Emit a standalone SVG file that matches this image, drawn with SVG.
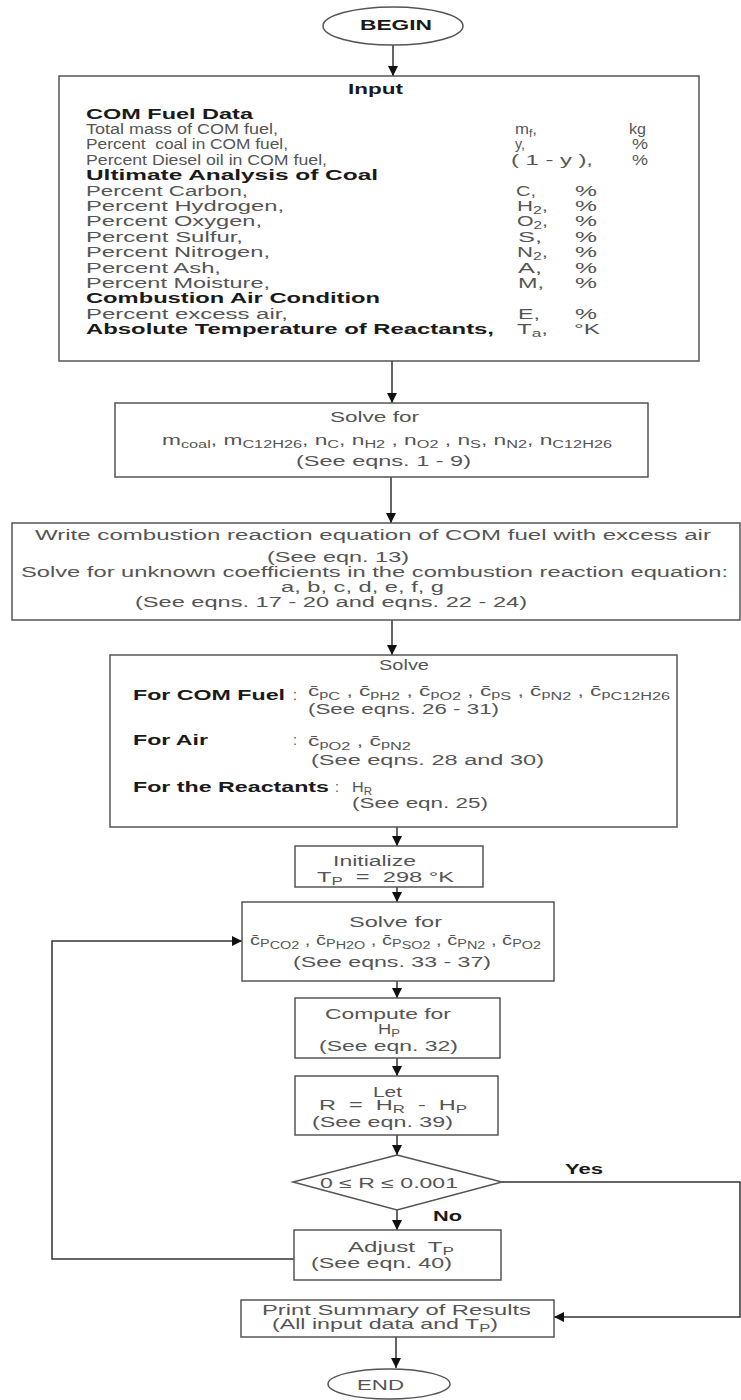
<svg xmlns="http://www.w3.org/2000/svg" width="741" height="1400" viewBox="0 0 741 1400">
<style>
.t{font-family:"Liberation Sans",Arial,sans-serif;font-size:14px;fill:#555}
.b{font-weight:bold;fill:#1a1a1a}
.s{font-size:10px}
.box{fill:#fff;stroke:#555;stroke-width:1.5}
.ln{fill:none;stroke:#333;stroke-width:1.5}
</style>
<defs>
<marker id="ah" markerUnits="userSpaceOnUse" markerWidth="12" markerHeight="12" refX="10" refY="5" orient="auto">
<path d="M0,0 L10,5 L0,10 Z" fill="#111"/>
</marker>
</defs>
<rect width="741" height="1400" fill="#fff"/>
<g id="connectors" class="ln">
<line x1="393" y1="45" x2="393" y2="76" marker-end="url(#ah)"/>
<line x1="392" y1="361" x2="392" y2="403" marker-end="url(#ah)"/>
<line x1="391" y1="477" x2="391" y2="523" marker-end="url(#ah)"/>
<line x1="392" y1="620" x2="392" y2="655" marker-end="url(#ah)"/>
<line x1="397" y1="827" x2="397" y2="846" marker-end="url(#ah)"/>
<line x1="397" y1="887" x2="397" y2="902" marker-end="url(#ah)"/>
<line x1="397" y1="981" x2="397" y2="998" marker-end="url(#ah)"/>
<line x1="397" y1="1058" x2="397" y2="1076" marker-end="url(#ah)"/>
<line x1="397" y1="1135" x2="397" y2="1155" marker-end="url(#ah)"/>
<line x1="397" y1="1210" x2="397" y2="1230" marker-end="url(#ah)"/>
<polyline points="294,1259 52,1259 52,941 242,941" marker-end="url(#ah)"/>
<polyline points="502,1182 740,1182 740,1317 554,1317" marker-end="url(#ah)"/>
<line x1="396" y1="1337" x2="396" y2="1368" marker-end="url(#ah)"/>
</g>
<g id="begin">
<ellipse class="box" cx="393" cy="26" rx="70" ry="19"/>
<text class="t b" x="360" y="30" textLength="72" lengthAdjust="spacingAndGlyphs">BEGIN</text>
</g>
<g id="input">
<rect class="box" x="59" y="76" width="640" height="285"/>
<text class="t b" x="348" y="93.5" textLength="55" lengthAdjust="spacingAndGlyphs">Input</text>
<text class="t b" x="86" y="118.5" textLength="167" lengthAdjust="spacingAndGlyphs">COM Fuel Data</text>
<text class="t" x="86" y="133.9" textLength="192" lengthAdjust="spacingAndGlyphs">Total mass of COM fuel,</text>
<text class="t" x="86" y="149.3" textLength="202" lengthAdjust="spacingAndGlyphs">Percent&#160; coal in COM fuel,</text>
<text class="t" x="86" y="164.7" textLength="241" lengthAdjust="spacingAndGlyphs">Percent Diesel oil in COM fuel,</text>
<text class="t b" x="86" y="180.1" textLength="292" lengthAdjust="spacingAndGlyphs">Ultimate Analysis of Coal</text>
<text class="t" x="86" y="195.5" textLength="162" lengthAdjust="spacingAndGlyphs">Percent Carbon,</text>
<text class="t" x="86" y="210.9" textLength="198" lengthAdjust="spacingAndGlyphs">Percent Hydrogen,</text>
<text class="t" x="86" y="226.3" textLength="176" lengthAdjust="spacingAndGlyphs">Percent Oxygen,</text>
<text class="t" x="86" y="241.7" textLength="157" lengthAdjust="spacingAndGlyphs">Percent Sulfur,</text>
<text class="t" x="86" y="257.1" textLength="184" lengthAdjust="spacingAndGlyphs">Percent Nitrogen,</text>
<text class="t" x="86" y="272.5" textLength="135" lengthAdjust="spacingAndGlyphs">Percent Ash,</text>
<text class="t" x="86" y="287.9" textLength="184" lengthAdjust="spacingAndGlyphs">Percent Moisture,</text>
<text class="t b" x="86" y="303.3" textLength="294" lengthAdjust="spacingAndGlyphs">Combustion Air Condition</text>
<text class="t" x="86" y="318.7" textLength="202" lengthAdjust="spacingAndGlyphs">Percent excess air,</text>
<text class="t b" x="86" y="334.1" textLength="408" lengthAdjust="spacingAndGlyphs">Absolute Temperature of Reactants,</text>
<text class="t" x="515" y="133.9" textLength="22" lengthAdjust="spacingAndGlyphs">m<tspan class="s" dy="3">f</tspan><tspan dy="-3">,</tspan></text>
<text class="t" x="629" y="133.9" textLength="17" lengthAdjust="spacingAndGlyphs">kg</text>
<text class="t" x="515" y="149.3" textLength="10" lengthAdjust="spacingAndGlyphs">y,</text>
<text class="t" x="632" y="149.3" textLength="16" lengthAdjust="spacingAndGlyphs">%</text>
<text class="t" x="511" y="164.7" textLength="82" lengthAdjust="spacingAndGlyphs">( 1 - y ),</text>
<text class="t" x="632" y="164.7" textLength="16" lengthAdjust="spacingAndGlyphs">%</text>
<text class="t" x="516" y="195.5" textLength="20" lengthAdjust="spacingAndGlyphs">C,</text>
<text class="t" x="575" y="195.5" textLength="22" lengthAdjust="spacingAndGlyphs">%</text>
<text class="t" x="517" y="210.9" textLength="31" lengthAdjust="spacingAndGlyphs">H<tspan class="s" dy="3">2</tspan><tspan dy="-3">,</tspan></text>
<text class="t" x="575" y="210.9" textLength="22" lengthAdjust="spacingAndGlyphs">%</text>
<text class="t" x="517" y="226.3" textLength="31" lengthAdjust="spacingAndGlyphs">O<tspan class="s" dy="3">2</tspan><tspan dy="-3">,</tspan></text>
<text class="t" x="575" y="226.3" textLength="22" lengthAdjust="spacingAndGlyphs">%</text>
<text class="t" x="518" y="241.7" textLength="24" lengthAdjust="spacingAndGlyphs">S,</text>
<text class="t" x="575" y="241.7" textLength="22" lengthAdjust="spacingAndGlyphs">%</text>
<text class="t" x="517" y="257.1" textLength="31" lengthAdjust="spacingAndGlyphs">N<tspan class="s" dy="3">2</tspan><tspan dy="-3">,</tspan></text>
<text class="t" x="575" y="257.1" textLength="22" lengthAdjust="spacingAndGlyphs">%</text>
<text class="t" x="518" y="272.5" textLength="24" lengthAdjust="spacingAndGlyphs">A,</text>
<text class="t" x="575" y="272.5" textLength="22" lengthAdjust="spacingAndGlyphs">%</text>
<text class="t" x="518" y="287.9" textLength="26" lengthAdjust="spacingAndGlyphs">M,</text>
<text class="t" x="575" y="287.9" textLength="22" lengthAdjust="spacingAndGlyphs">%</text>
<text class="t" x="518" y="318.7" textLength="22" lengthAdjust="spacingAndGlyphs">E,</text>
<text class="t" x="575" y="318.7" textLength="22" lengthAdjust="spacingAndGlyphs">%</text>
<text class="t" x="517" y="334.1" textLength="31" lengthAdjust="spacingAndGlyphs">T<tspan class="s" dy="3">a</tspan><tspan dy="-3">,</tspan></text>
<text class="t" x="574" y="334.1" textLength="26" lengthAdjust="spacingAndGlyphs">°K</text>
</g>
<g id="solve1">
<rect class="box" x="115" y="403" width="533" height="74"/>
<text class="t" x="330" y="421.5" textLength="89" lengthAdjust="spacingAndGlyphs">Solve for</text>
<text class="t" x="162" y="444.5" textLength="450" lengthAdjust="spacingAndGlyphs">m<tspan class="s" dy="3">coal</tspan><tspan dy="-3">, m</tspan><tspan class="s" dy="3">C12H26</tspan><tspan dy="-3">, n</tspan><tspan class="s" dy="3">C</tspan><tspan dy="-3">, n</tspan><tspan class="s" dy="3">H2</tspan><tspan dy="-3"> , n</tspan><tspan class="s" dy="3">O2</tspan><tspan dy="-3"> , n</tspan><tspan class="s" dy="3">S</tspan><tspan dy="-3">, n</tspan><tspan class="s" dy="3">N2</tspan><tspan dy="-3">, n</tspan><tspan class="s" dy="3">C12H26</tspan></text>
<text class="t" x="296" y="465.5" textLength="175" lengthAdjust="spacingAndGlyphs">(See eqns. 1 - 9)</text>
</g>
<g id="write">
<rect class="box" x="12" y="523" width="728" height="97"/>
<text class="t" x="35" y="539.5" textLength="676" lengthAdjust="spacingAndGlyphs">Write combustion reaction equation of COM fuel with excess air</text>
<text class="t" x="267" y="561.5" textLength="142" lengthAdjust="spacingAndGlyphs">(See eqn. 13)</text>
<text class="t" x="21" y="576.5" textLength="707" lengthAdjust="spacingAndGlyphs">Solve for unknown coefficients in the combustion reaction equation:</text>
<text class="t" x="281" y="591.5" textLength="163" lengthAdjust="spacingAndGlyphs">a, b, c, d, e, f, g</text>
<text class="t" x="135" y="606.5" textLength="392" lengthAdjust="spacingAndGlyphs">(See eqns. 17 - 20 and eqns. 22 - 24)</text>
</g>
<g id="solve2">
<rect class="box" x="110" y="655" width="567" height="172"/>
<text class="t" x="379" y="669.5" textLength="50" lengthAdjust="spacingAndGlyphs">Solve</text>
<text class="t b" x="133" y="699.5" textLength="152" lengthAdjust="spacingAndGlyphs">For COM Fuel</text>
<text class="t" x="293" y="699.5">:</text>
<text class="t" x="308" y="696" textLength="362" lengthAdjust="spacingAndGlyphs">c&#x304;<tspan class="s" dy="2">p</tspan><tspan class="s" dy="1.5">C</tspan><tspan dy="-3.5"> , c&#x304;</tspan><tspan class="s" dy="2">p</tspan><tspan class="s" dy="1.5">H2</tspan><tspan dy="-3.5"> , c&#x304;</tspan><tspan class="s" dy="2">p</tspan><tspan class="s" dy="1.5">O2</tspan><tspan dy="-3.5"> , c&#x304;</tspan><tspan class="s" dy="2">p</tspan><tspan class="s" dy="1.5">S</tspan><tspan dy="-3.5"> , c&#x304;</tspan><tspan class="s" dy="2">p</tspan><tspan class="s" dy="1.5">N2</tspan><tspan dy="-3.5"> , c&#x304;</tspan><tspan class="s" dy="2">p</tspan><tspan class="s" dy="1.5">C12H26</tspan></text>
<text class="t" x="308" y="714" textLength="191" lengthAdjust="spacingAndGlyphs">(See eqns. 26 - 31)</text>
<text class="t b" x="133" y="744.5" textLength="75" lengthAdjust="spacingAndGlyphs">For Air</text>
<text class="t" x="293" y="744.5">:</text>
<text class="t" x="308" y="746" textLength="103" lengthAdjust="spacingAndGlyphs">c&#x304;<tspan class="s" dy="2">p</tspan><tspan class="s" dy="1.5">O2</tspan><tspan dy="-3.5"> , c&#x304;</tspan><tspan class="s" dy="2">p</tspan><tspan class="s" dy="1.5">N2</tspan></text>
<text class="t" x="311" y="764.5" textLength="233" lengthAdjust="spacingAndGlyphs">(See eqns. 28 and 30)</text>
<text class="t b" x="133" y="791.5" textLength="196" lengthAdjust="spacingAndGlyphs">For the Reactants</text>
<text class="t" x="335" y="791.5">:</text>
<text class="t" x="352" y="791.5" textLength="20" lengthAdjust="spacingAndGlyphs">H<tspan class="s" dy="3">R</tspan></text>
<text class="t" x="352" y="807.5" textLength="136" lengthAdjust="spacingAndGlyphs">(See eqn. 25)</text>
</g>
<g id="initialize">
<rect class="box" x="295" y="846" width="188" height="41"/>
<text class="t" x="333" y="865.5" textLength="83" lengthAdjust="spacingAndGlyphs">Initialize</text>
<text class="t" x="317" y="881.5" textLength="137" lengthAdjust="spacingAndGlyphs">T<tspan class="s" dy="3">P</tspan><tspan dy="-3">&#160; = &#160;298 °K</tspan></text>
</g>
<g id="solve3">
<rect class="box" x="242" y="902" width="312" height="79"/>
<text class="t" x="349" y="926.5" textLength="93" lengthAdjust="spacingAndGlyphs">Solve for</text>
<text class="t" x="250" y="945" textLength="291" lengthAdjust="spacingAndGlyphs">c&#x304;<tspan class="s" dy="2">P</tspan><tspan class="s" dy="1.5">CO2</tspan><tspan dy="-3.5"> , c&#x304;</tspan><tspan class="s" dy="2">P</tspan><tspan class="s" dy="1.5">H2O</tspan><tspan dy="-3.5"> , c&#x304;</tspan><tspan class="s" dy="2">P</tspan><tspan class="s" dy="1.5">SO2</tspan><tspan dy="-3.5"> , c&#x304;</tspan><tspan class="s" dy="2">P</tspan><tspan class="s" dy="1.5">N2</tspan><tspan dy="-3.5"> , c&#x304;</tspan><tspan class="s" dy="2">P</tspan><tspan class="s" dy="1.5">O2</tspan></text>
<text class="t" x="293" y="966.5" textLength="198" lengthAdjust="spacingAndGlyphs">(See eqns. 33 - 37)</text>
</g>
<g id="compute">
<rect class="box" x="295" y="998" width="205" height="60"/>
<text class="t" x="325" y="1018.5" textLength="126" lengthAdjust="spacingAndGlyphs">Compute for</text>
<text class="t" x="378" y="1033.5" textLength="22" lengthAdjust="spacingAndGlyphs">H<tspan class="s" dy="3">P</tspan></text>
<text class="t" x="319" y="1050.5" textLength="139" lengthAdjust="spacingAndGlyphs">(See eqn. 32)</text>
</g>
<g id="let">
<rect class="box" x="295" y="1076" width="203" height="59"/>
<text class="t" x="373" y="1096.5" textLength="29" lengthAdjust="spacingAndGlyphs">Let</text>
<text class="t" x="319" y="1109.5" textLength="148" lengthAdjust="spacingAndGlyphs">R&#160; = &#160;H<tspan class="s" dy="3">R</tspan><tspan dy="-3">&#160; - &#160;H</tspan><tspan class="s" dy="3">P</tspan></text>
<text class="t" x="312" y="1126.5" textLength="141" lengthAdjust="spacingAndGlyphs">(See eqn. 39)</text>
</g>
<g id="decision">
<polygon class="box" points="397,1155 502,1182 397,1210 293,1182"/>
<text class="t" x="320" y="1187.5" textLength="138" lengthAdjust="spacingAndGlyphs">0 ≤ R ≤ 0.001</text>
<text class="t b" x="565" y="1173.5" textLength="38" lengthAdjust="spacingAndGlyphs">Yes</text>
<text class="t b" x="433" y="1220.5" textLength="29" lengthAdjust="spacingAndGlyphs">No</text>
</g>
<g id="adjust">
<rect class="box" x="294" y="1230" width="207" height="50"/>
<text class="t" x="348" y="1251.5" textLength="106" lengthAdjust="spacingAndGlyphs">Adjust&#160; T<tspan class="s" dy="3">P</tspan></text>
<text class="t" x="311" y="1267.5" textLength="141" lengthAdjust="spacingAndGlyphs">(See eqn. 40)</text>
</g>
<g id="print">
<rect class="box" x="241" y="1300" width="313" height="37"/>
<text class="t" x="262" y="1314.5" textLength="269" lengthAdjust="spacingAndGlyphs">Print Summary of Results</text>
<text class="t" x="272" y="1329" textLength="226" lengthAdjust="spacingAndGlyphs">(All input data and T<tspan class="s" dy="3">P</tspan><tspan dy="-3">)</tspan></text>
</g>
<g id="end">
<ellipse class="box" cx="389" cy="1384" rx="61" ry="15"/>
<text class="t" x="357" y="1389.5" textLength="47" lengthAdjust="spacingAndGlyphs">END</text>
</g>
</svg>
